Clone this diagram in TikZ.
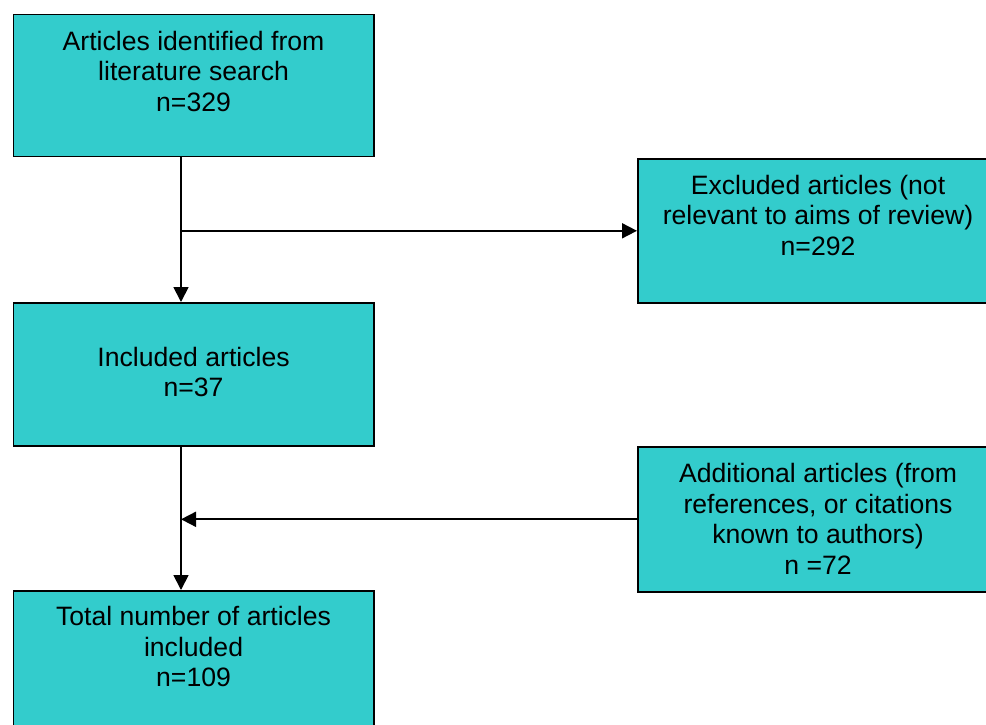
\documentclass[tikz,border=0pt]{standalone}
\usepackage{fontspec}
\setmainfont{Liberation Sans}
\usetikzlibrary{arrows.meta}
\definecolor{boxteal}{RGB}{51,204,204}
\tikzset{
  flowbox/.style={draw=black, line width=1.6pt, fill=boxteal, anchor=north west,
    minimum width=360.5pt, inner xsep=0pt, inner ysep=0pt,
    font=\fontsize{26.6pt}{30.5pt}\selectfont},
  conn/.style={line width=1.8pt, draw=black},
  arr/.style={conn, -{Triangle[length=15pt,width=15pt]}}
}
\newcommand{\boxtext}[1]{\begin{tabular}[t]{@{}c@{}}#1\end{tabular}}
\begin{document}
\begin{tikzpicture}[x=1pt,y=-1pt]
\useasboundingbox (0,0) rectangle (986,724);
\node[flowbox, text height=35.8pt, text depth=106.2pt] (b1) at (12.5,13.5)
  {\boxtext{Articles identified from\\literature search\\n=329}};
\node[flowbox, text height=35.3pt, text depth=108.7pt] (b2) at (637,158)
  {\boxtext{Excluded articles (not\\relevant to aims of review)\\n=292}};
\node[flowbox, text height=63.3pt, text depth=79.7pt] (b3) at (12.5,302)
  {\boxtext{Included articles\\n=37}};
\node[flowbox, text height=35.7pt, text depth=109.3pt] (b4) at (637,446)
  {\boxtext{Additional articles (from\\references, or citations\\known to authors)\\n =72}};
\node[flowbox, text height=35pt, text depth=108pt] (b5) at (12.5,590)
  {\boxtext{Total number of articles\\included\\n=109}};
\coordinate (vx) at (181,0);
\coordinate (j1) at (b2.west -| vx);
\coordinate (j2) at (b4.west -| vx);
\draw[arr] (b1.south -| vx) -- (b3.north -| vx);
\draw[arr] (j1) -- (b2.west);
\draw[arr] (b4.west) -- (j2);
\draw[arr] (b3.south -| vx) -- (b5.north -| vx);
\end{tikzpicture}
\end{document}
